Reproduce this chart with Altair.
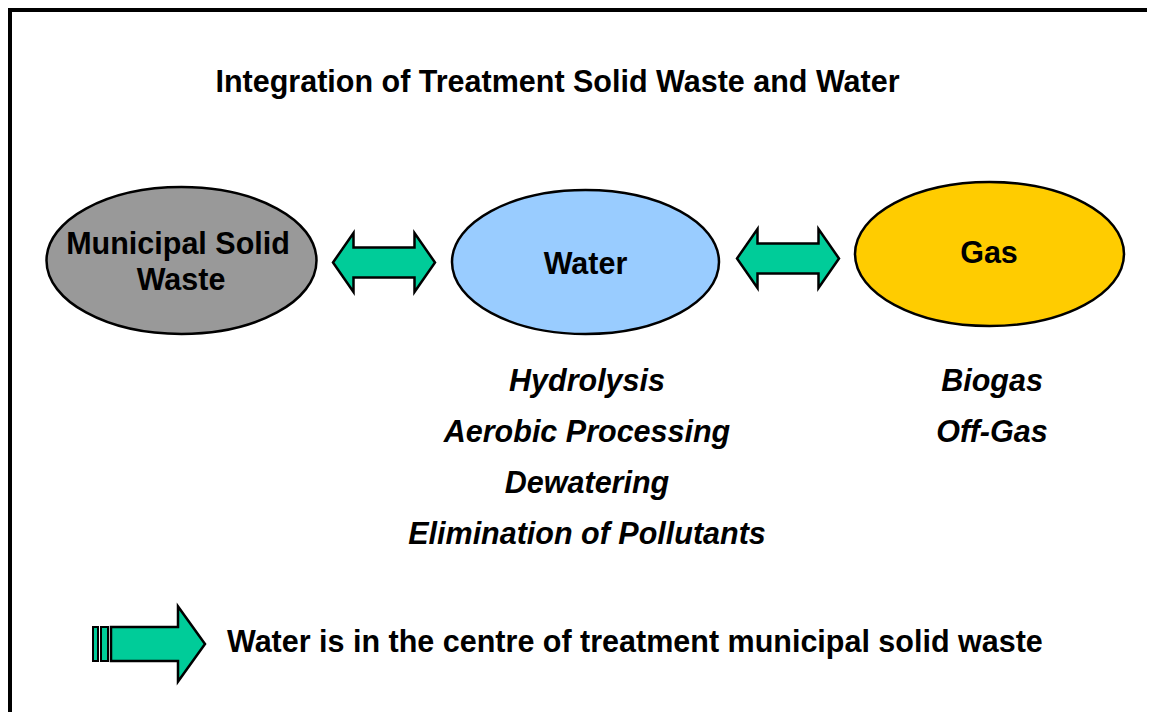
import altair as alt
import pandas as pd

# ---------------- content ----------------
title_text = "Integration of Treatment Solid Waste and Water"
node_labels = [["Municipal Solid", "Waste"], ["Water"], ["Gas"]]
node_colors = ["#999999", "#99CCFF", "#FFCC00"]
water_steps = ["Hydrolysis", "Aerobic Processing", "Dewatering", "Elimination of Pollutants"]
gas_steps = ["Biogas", "Off-Gas"]
conclusion = "Water is in the centre of treatment municipal solid waste"
arrow_color = "#00CC99"

# ---------------- layout (page pixels) ----------------
X0, X1, Y0, Y1 = 8, 1147, 8, 712
node_geom = [(181.5, 260.5, 135, 73.5), (585.5, 262, 133.5, 72), (989.5, 254, 134.5, 72)]
node_label_pos = [[(178, 254), (181, 290)], [(585.5, 273.5)], [(989, 263)]]
dbl_arrows = [(333, 435, 262.5), (737, 839, 258.5)]  # x_left, x_right, y_center
dbl_head_len, dbl_head_half, dbl_shaft_half = 20.5, 29.5, 15
single_arrow = (111, 205, 644)
single_head_len, single_head_half, single_shaft_half = 27, 37.5, 17
stripes = [(93, 98), (101, 108)]
water_x, gas_x = 587, 992
step_baselines = [391, 442, 493, 544]

FONT = "Liberation Sans, Arial"
FS_TITLE, FS_NODE, FS_STEP, FS_CONCL = 30.5, 30.5, 30.5, 30.5

xs = alt.Scale(domain=[X0, X1], nice=False, zero=False)
ys = alt.Scale(domain=[Y0, Y1], nice=False, zero=False, reverse=True)
X = lambda f: alt.X(f, type="quantitative", scale=xs, axis=None)
Y = lambda f: alt.Y(f, type="quantitative", scale=ys, axis=None)


def fmt(v):
    return f"{v:.4f}".rstrip("0").rstrip(".")


def ellipse_path(k):
    c = 0.5523
    pts = [
        "M 1 0",
        f"C 1 {fmt(k*c)} {fmt(c)} {fmt(k)} 0 {fmt(k)}",
        f"C {fmt(-c)} {fmt(k)} -1 {fmt(k*c)} -1 0",
        f"C -1 {fmt(-k*c)} {fmt(-c)} {fmt(-k)} 0 {fmt(-k)}",
        f"C {fmt(c)} {fmt(-k)} 1 {fmt(-k*c)} 1 0 Z",
    ]
    return " ".join(pts)


def double_arrow_path(half, hl, hh, sh):
    h, H, s = hl / half, hh / half, sh / half
    p = [(-1, 0), (-1 + h, -H), (-1 + h, -s), (1 - h, -s), (1 - h, -H), (1, 0),
         (1 - h, H), (1 - h, s), (-1 + h, s), (-1 + h, H)]
    return "M " + " L ".join(f"{fmt(a)} {fmt(b)}" for a, b in p) + " Z"


def single_arrow_path(half, hl, hh, sh):
    h, H, s = hl / half, hh / half, sh / half
    p = [(-1, -s), (1 - h, -s), (1 - h, -H), (1, 0), (1 - h, H), (1 - h, s), (-1, s)]
    return "M " + " L ".join(f"{fmt(a)} {fmt(b)}" for a, b in p) + " Z"


# ---------------- border ----------------
border_top = alt.Chart(pd.DataFrame({"x": [X0], "x2": [X1], "y": [9.5]})).mark_rule(
    color="black", strokeWidth=5, strokeCap="butt").encode(x=X("x"), x2="x2", y=Y("y"))
border_left = alt.Chart(pd.DataFrame({"x": [9.5], "y": [Y0], "y2": [Y1]})).mark_rule(
    color="black", strokeWidth=5, strokeCap="butt").encode(x=X("x"), y=Y("y"), y2="y2")

# ---------------- ellipses ----------------
ell_df = pd.DataFrame({
    "x": [g[0] for g in node_geom],
    "y": [g[1] for g in node_geom],
    "size": [4 * g[2] ** 2 for g in node_geom],
    "shape": [ellipse_path(g[3] / g[2]) for g in node_geom],
    "fill": node_colors,
})
ellipses = alt.Chart(ell_df).mark_point(filled=True, opacity=1, stroke="black", strokeWidth=2.5).encode(
    x=X("x"), y=Y("y"),
    size=alt.Size("size:Q", scale=None),
    shape=alt.Shape("shape:N", scale=None),
    fill=alt.Fill("fill:N", scale=None),
)

# ---------------- arrows ----------------
arr_rows = []
for xl, xr, yc in dbl_arrows:
    half = (xr - xl) / 2
    arr_rows.append({"x": (xl + xr) / 2, "y": yc, "size": 4 * half ** 2,
                     "shape": double_arrow_path(half, dbl_head_len, dbl_head_half, dbl_shaft_half)})
sx0, sx1, syc = single_arrow
shalf = (sx1 - sx0) / 2
arr_rows.append({"x": (sx0 + sx1) / 2, "y": syc, "size": 4 * shalf ** 2,
                 "shape": single_arrow_path(shalf, single_head_len, single_head_half, single_shaft_half)})
arrows = alt.Chart(pd.DataFrame(arr_rows)).mark_point(
    filled=True, opacity=1, fill=arrow_color, stroke="black", strokeWidth=2.5, strokeJoin="miter").encode(
    x=X("x"), y=Y("y"),
    size=alt.Size("size:Q", scale=None),
    shape=alt.Shape("shape:N", scale=None),
)
stripe_df = pd.DataFrame({"x": [s[0] for s in stripes], "x2": [s[1] for s in stripes],
                          "y": [syc - single_shaft_half] * 2, "y2": [syc + single_shaft_half] * 2})
stripe_marks = alt.Chart(stripe_df).mark_rect(fill=arrow_color, stroke="black", strokeWidth=2).encode(
    x=X("x"), x2="x2", y=Y("y"), y2="y2")

# ---------------- texts ----------------
title = alt.Chart(pd.DataFrame({"t": [title_text], "x": [557.5], "y": [92]})).mark_text(
    font=FONT, fontSize=FS_TITLE, fontWeight="bold", align="center", baseline="alphabetic", color="black").encode(
    x=X("x"), y=Y("y"), text="t:N")

lab_rows = []
for lines, poss in zip(node_labels, node_label_pos):
    for line, (lx, ly) in zip(lines, poss):
        lab_rows.append({"t": line, "x": lx, "y": ly})
node_text = alt.Chart(pd.DataFrame(lab_rows)).mark_text(
    font=FONT, fontSize=FS_NODE, fontWeight="bold", align="center", baseline="alphabetic", color="black").encode(
    x=X("x"), y=Y("y"), text="t:N")

step_rows = [{"t": t, "x": water_x, "y": step_baselines[i]} for i, t in enumerate(water_steps)]
step_rows += [{"t": t, "x": gas_x, "y": step_baselines[i]} for i, t in enumerate(gas_steps)]
steps = alt.Chart(pd.DataFrame(step_rows)).mark_text(
    font=FONT, fontSize=FS_STEP, fontWeight="bold", fontStyle="italic", align="center",
    baseline="alphabetic", color="black").encode(x=X("x"), y=Y("y"), text="t:N")

concl = alt.Chart(pd.DataFrame({"t": [conclusion], "x": [227], "y": [652]})).mark_text(
    font=FONT, fontSize=FS_CONCL, fontWeight="bold", align="left", baseline="alphabetic", color="black").encode(
    x=X("x"), y=Y("y"), text="t:N")

chart = alt.layer(border_top, border_left, ellipses, arrows, stripe_marks, title, node_text, steps, concl).properties(
    width=X1 - X0, height=Y1 - Y0, padding=0, autosize=alt.AutoSizeParams(type="none"),
    background="white",
).configure_view(stroke=None)

chart.save("out.html", embed_options={"renderer": "svg", "actions": False})
